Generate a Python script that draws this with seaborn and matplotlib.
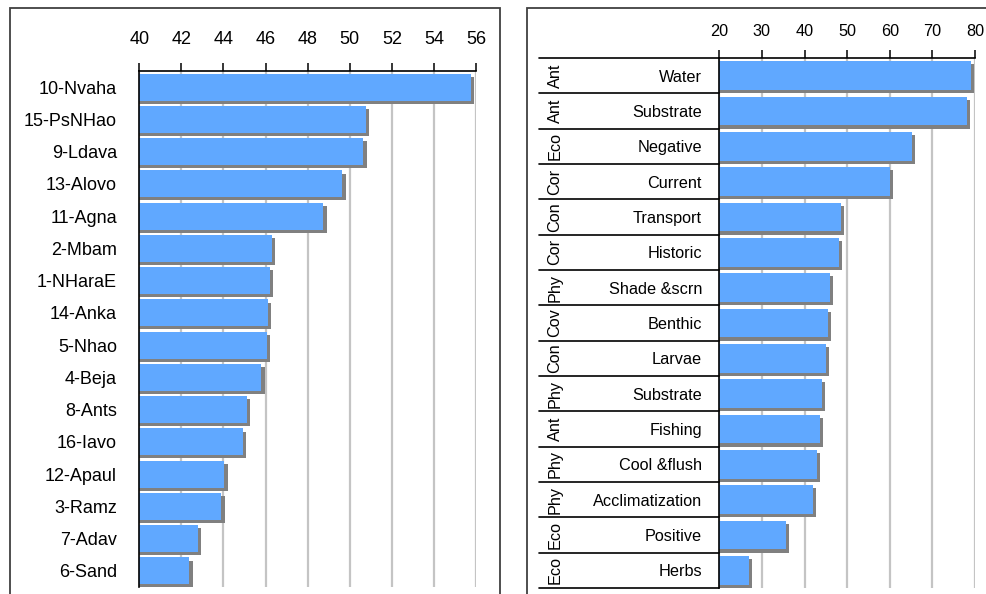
import matplotlib
matplotlib.use("Agg")
import matplotlib.pyplot as plt
import matplotlib.patheffects as pe
from matplotlib.patches import Rectangle
from matplotlib.ticker import FixedLocator, MultipleLocator
import pandas as pd
import seaborn as sns

# ---- data -------------------------------------------------------------
sites = ["10-Nvaha", "15-PsNHao", "9-Ldava", "13-Alovo", "11-Agna", "2-Mbam",
         "1-NHaraE", "14-Anka", "5-Nhao", "4-Beja", "8-Ants", "16-Iavo",
         "12-Apaul", "3-Ramz", "7-Adav", "6-Sand"]
site_scores = [55.75, 50.75, 50.65, 49.65, 48.75, 46.3, 46.2, 46.13, 46.08,
               45.8, 45.13, 44.94, 44.04, 43.9, 42.8, 42.38]
site_ticks = [40, 42, 44, 46, 48, 50, 52, 54, 56]

groups = ["Ant", "Ant", "Eco", "Cor", "Con", "Cor", "Phy", "Cov", "Con",
          "Phy", "Ant", "Phy", "Phy", "Eco", "Eco"]
factors = ["Water", "Substrate", "Negative", "Current", "Transport",
           "Historic", "Shade &scrn", "Benthic", "Larvae", "Substrate",
           "Fishing", "Cool &flush", "Acclimatization", "Positive", "Herbs"]
factor_scores = [79.1, 78.1, 65.2, 60.1, 48.6, 48.1, 45.9, 45.5, 45.0,
                 44.1, 43.6, 42.9, 42.0, 35.6, 27.0]
factor_ticks = [20, 30, 40, 50, 60, 70, 80]

# ---- style ------------------------------------------------------------
sns.set_style("white")
plt.rcParams["font.family"] = ["Liberation Sans", "DejaVu Sans"]

BAR = "#60a8ff"
SHADOW = "#808080"
GRID = "#c4c4c4"
shadow_fx = [pe.SimplePatchShadow(offset=(2.3, -2.3), shadow_rgbFace=SHADOW,
                                  alpha=1.0), pe.Normal()]

fig = plt.figure(figsize=(9.86, 5.94), dpi=100)

# panel frames
fig.patches.append(Rectangle((10 / 986, -0.05), 490 / 986, 1.05 - 8 / 594,
                             transform=fig.transFigure, fill=False,
                             edgecolor="#404040", linewidth=1.3))
fig.patches.append(Rectangle((527 / 986, -0.05), 0.6, 1.05 - 8 / 594,
                             transform=fig.transFigure, fill=False,
                             edgecolor="#404040", linewidth=1.3))


def style_value_axis(ax, ticks, lo, hi, fs, pad):
    ax.set_xlim(lo, hi)
    ax.xaxis.set_major_locator(FixedLocator(ticks))
    ax.xaxis.tick_top()
    ax.tick_params(axis="x", which="major", direction="out", length=6,
                   width=1.1, color="black", labelsize=fs, pad=pad,
                   labelcolor="black")
    ax.grid(axis="x", color=GRID, linewidth=1.6, zorder=0)
    ax.grid(axis="y", visible=False)
    ax.set_axisbelow(True)
    for side in ("right", "bottom"):
        ax.spines[side].set_visible(False)
    for side in ("top", "left"):
        ax.spines[side].set_color("black")
        ax.spines[side].set_linewidth(1.2)
    ax.set_xlabel("")
    ax.set_ylabel("")


# ---- left panel: sites ---------------------------------------------------
axL = fig.add_axes([139.3 / 986, 1 - 587 / 594, (476 - 139.3) / 986,
                    (587 - 71) / 594])
df_sites = pd.DataFrame({"site": sites, "score": site_scores})
sns.barplot(data=df_sites, x="score", y="site", orient="h", color=BAR,
            saturation=1, width=0.83, ax=axL, linewidth=0)
for bar in axL.patches:
    bar.set_path_effects(shadow_fx)
style_value_axis(axL, site_ticks, 40, 56, 13, 10.5)
axL.set_ylim(len(sites) - 0.5, -0.5)
axL.yaxis.set_minor_locator(MultipleLocator(1, offset=0.5))
axL.tick_params(axis="y", which="major", length=0, labelsize=13, pad=16,
                labelcolor="black")
axL.tick_params(axis="y", which="minor", direction="out", length=6,
                width=1.1, color="black")

# ---- right panel: factors ------------------------------------------------
axR = fig.add_axes([719.3 / 986, 1 - 588 / 594, (975 - 719.3) / 986,
                    (588 - 58) / 594])
keys = [f"{g}:{f}" for g, f in zip(groups, factors)]
df_fac = pd.DataFrame({"key": keys, "score": factor_scores})
sns.barplot(data=df_fac, x="score", y="key", orient="h", color=BAR,
            saturation=1, width=0.82, ax=axR, linewidth=0)
for bar in axR.patches:
    bar.set_path_effects(shadow_fx)
style_value_axis(axR, factor_ticks, 20, 80, 11.7, 7.8)
axR.set_ylim(len(factors) - 0.5, -0.5)
axR.set_yticks(range(len(factors)))
axR.set_yticklabels(factors)
axR.tick_params(axis="y", which="major", length=0, labelsize=11.7, pad=12.5,
                labelcolor="black")

# row separators and group labels to the left of the axis
sep_left = -(719.3 - 539) / (975 - 719.3)
trans = axR.get_yaxis_transform()
for b in range(len(factors) + 1):
    axR.plot([sep_left, 0], [b - 0.5, b - 0.5], transform=trans,
             color="black", linewidth=1.2, clip_on=False)
grp_x = -(719.3 - 555) / (975 - 719.3)
for i, g in enumerate(groups):
    axR.text(grp_x, i, g, transform=trans, rotation=90, ha="center",
             va="center", fontsize=11.7, color="black")

fig.savefig("out.png", dpi=100)
